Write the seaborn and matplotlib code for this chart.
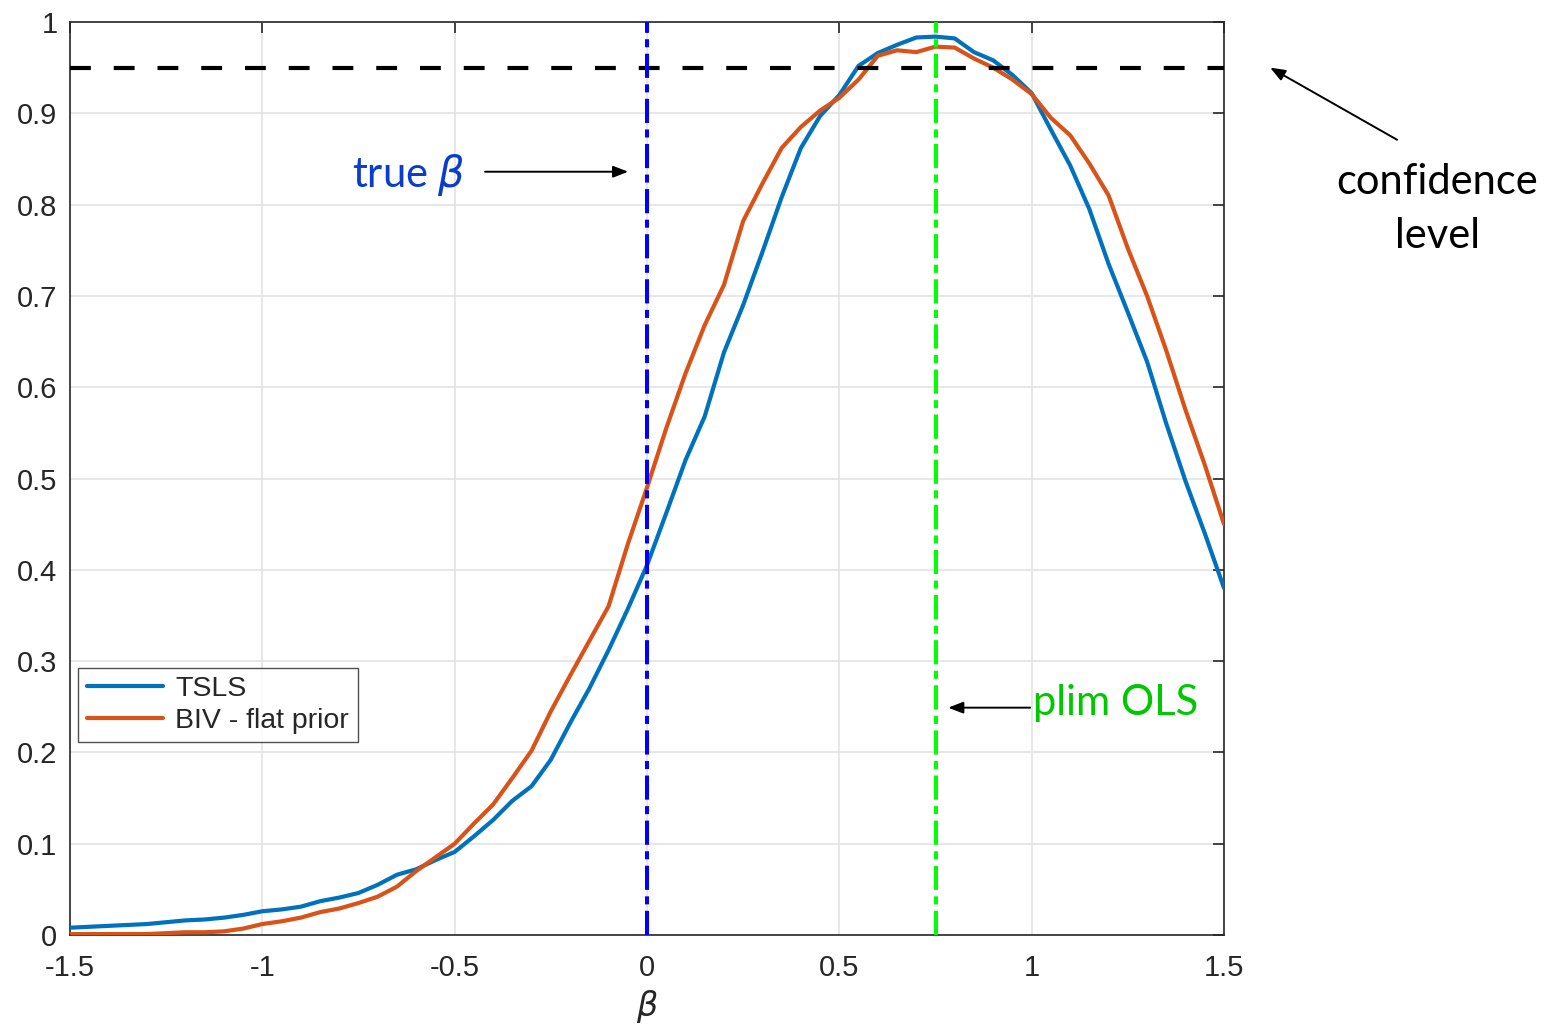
import numpy as np
import pandas as pd
import matplotlib
matplotlib.use("Agg")
import matplotlib.pyplot as plt
import seaborn as sns

# ---- data ----
beta = [-1.50, -1.45, -1.40, -1.35, -1.30, -1.25, -1.20, -1.15, -1.10, -1.05,
        -1.00, -0.95, -0.90, -0.85, -0.80, -0.75, -0.70, -0.65, -0.60, -0.55,
        -0.50, -0.45, -0.40, -0.35, -0.30, -0.25, -0.20, -0.15, -0.10, -0.05,
        0.00, 0.05, 0.10, 0.15, 0.20, 0.25, 0.30, 0.35, 0.40, 0.45,
        0.50, 0.55, 0.60, 0.65, 0.70, 0.75, 0.80, 0.85, 0.90, 0.95,
        1.00, 1.05, 1.10, 1.15, 1.20, 1.25, 1.30, 1.35, 1.40, 1.45, 1.50]

tsls = [0.008, 0.009, 0.010, 0.011, 0.012, 0.014, 0.016, 0.017, 0.019, 0.022,
        0.026, 0.028, 0.031, 0.037, 0.041, 0.046, 0.055, 0.066, 0.072, 0.082,
        0.091, 0.108, 0.126, 0.147, 0.163, 0.192, 0.232, 0.270, 0.312, 0.357,
        0.405, 0.462, 0.520, 0.568, 0.638, 0.690, 0.748, 0.808, 0.862, 0.897,
        0.920, 0.952, 0.966, 0.975, 0.983, 0.984, 0.982, 0.967, 0.958, 0.942,
        0.922, 0.882, 0.843, 0.795, 0.735, 0.682, 0.628, 0.560, 0.497, 0.440, 0.380]

biv = [0.001, 0.001, 0.001, 0.001, 0.001, 0.002, 0.003, 0.003, 0.004, 0.007,
       0.012, 0.015, 0.019, 0.025, 0.029, 0.035, 0.042, 0.053, 0.070, 0.085,
       0.100, 0.122, 0.143, 0.172, 0.202, 0.245, 0.284, 0.322, 0.360, 0.428,
       0.490, 0.555, 0.615, 0.668, 0.712, 0.782, 0.823, 0.862, 0.885, 0.903,
       0.917, 0.937, 0.963, 0.969, 0.967, 0.973, 0.972, 0.960, 0.950, 0.937,
       0.921, 0.895, 0.876, 0.845, 0.810, 0.752, 0.700, 0.640, 0.575, 0.515, 0.450]

series_names = ["TSLS", "BIV - flat prior"]
true_beta = 0.0
plim_ols = 0.75
conf_level = 0.95

xticks = [-1.5, -1, -0.5, 0, 0.5, 1, 1.5]
xticklabels = ["-1.5", "-1", "-0.5", "0", "0.5", "1", "1.5"]
yticks = [0, 0.1, 0.2, 0.3, 0.4, 0.5, 0.6, 0.7, 0.8, 0.9, 1]
yticklabels = ["0", "0.1", "0.2", "0.3", "0.4", "0.5", "0.6", "0.7", "0.8", "0.9", "1"]

df = pd.DataFrame({
    "beta": beta * 2,
    "coverage": tsls + biv,
    "method": [series_names[0]] * len(beta) + [series_names[1]] * len(beta),
})

# ---- figure ----
sns.set_style("white")
plt.rcParams["font.family"] = ["Liberation Sans", "DejaVu Sans"]
plt.rcParams["mathtext.fontset"] = "dejavusans"

fig = plt.figure(figsize=(15.48, 10.28), dpi=100)
ax = fig.add_axes([70 / 1548, 93 / 1028, 1154 / 1548, 913 / 1028])

palette = {"TSLS": "#0072BD", "BIV - flat prior": "#D95319"}
sns.lineplot(data=df, x="beta", y="coverage", hue="method", palette=palette,
             linewidth=3.0, ax=ax, legend=True, zorder=3)

# reference lines
ax.axhline(conf_level, color="black", lw=3.0, dashes=(5, 5.5), zorder=4)
ax.axvline(true_beta, color="#0000FF", lw=2.9, dashes=(6, 1.6, 2, 1.6), zorder=4)
ax.axvline(plim_ols, color="#00FF00", lw=2.9, dashes=(6, 1.6, 2, 1.6), zorder=4)

ax.set_xlim(-1.5, 1.5)
ax.set_ylim(0, 1)
ax.set_xticks(xticks)
ax.set_xticklabels(xticklabels)
ax.set_yticks(yticks)
ax.set_yticklabels(yticklabels)
ax.grid(True, color="#e3e3e3", lw=1.2)
ax.set_axisbelow(True)
ax.tick_params(direction="in", length=8, width=1.2, top=True, right=True,
               labelsize=21, colors="#262626")
ax.tick_params(axis="x", pad=14)
ax.tick_params(axis="y", pad=9)
for s in ax.spines.values():
    s.set_color("#262626")
    s.set_linewidth(1.2)
ax.set_xlabel(r"$\beta$", fontsize=24, color="#262626", labelpad=4)
ax.set_ylabel("")

leg = ax.legend(loc="lower left", bbox_to_anchor=(0.007, 0.211), fontsize=20.5,
                frameon=True, fancybox=False, edgecolor="#262626",
                handlelength=2.7, handletextpad=0.42, borderpad=0.3,
                labelspacing=0.2, borderaxespad=0)
leg.get_frame().set_linewidth(1.0)
for h in leg.get_lines():
    h.set_linewidth(3.0)

ann_font = ["Lato", "DejaVu Sans"]
arrowprops = dict(arrowstyle="-|>,head_length=0.9,head_width=0.35",
                  color="black", lw=1.4, shrinkA=0, shrinkB=0)

ax.annotate("", xy=(-0.049, 0.836), xytext=(-0.421, 0.836),
            arrowprops=arrowprops)
ax.text(-0.473, 0.832, r"true $\beta$", color="#0a3cd0", fontsize=30,
        ha="right", va="center", family=ann_font)

ax.annotate("", xy=(0.783, 0.249), xytext=(0.996, 0.249),
            arrowprops=arrowprops)
ax.text(1.003, 0.254, "plim OLS", color="#00c800", fontsize=30,
        ha="left", va="center", family=ann_font)

ax.annotate("", xy=(1.62, 0.95), xytext=(1.95, 0.871),
            arrowprops=arrowprops, annotation_clip=False)
ax.text(2.054, 0.795, "confidence\nlevel", color="black", fontsize=30,
        ha="center", va="center", family=ann_font, linespacing=1.5,
        clip_on=False)

fig.savefig("out.png", dpi=100)
